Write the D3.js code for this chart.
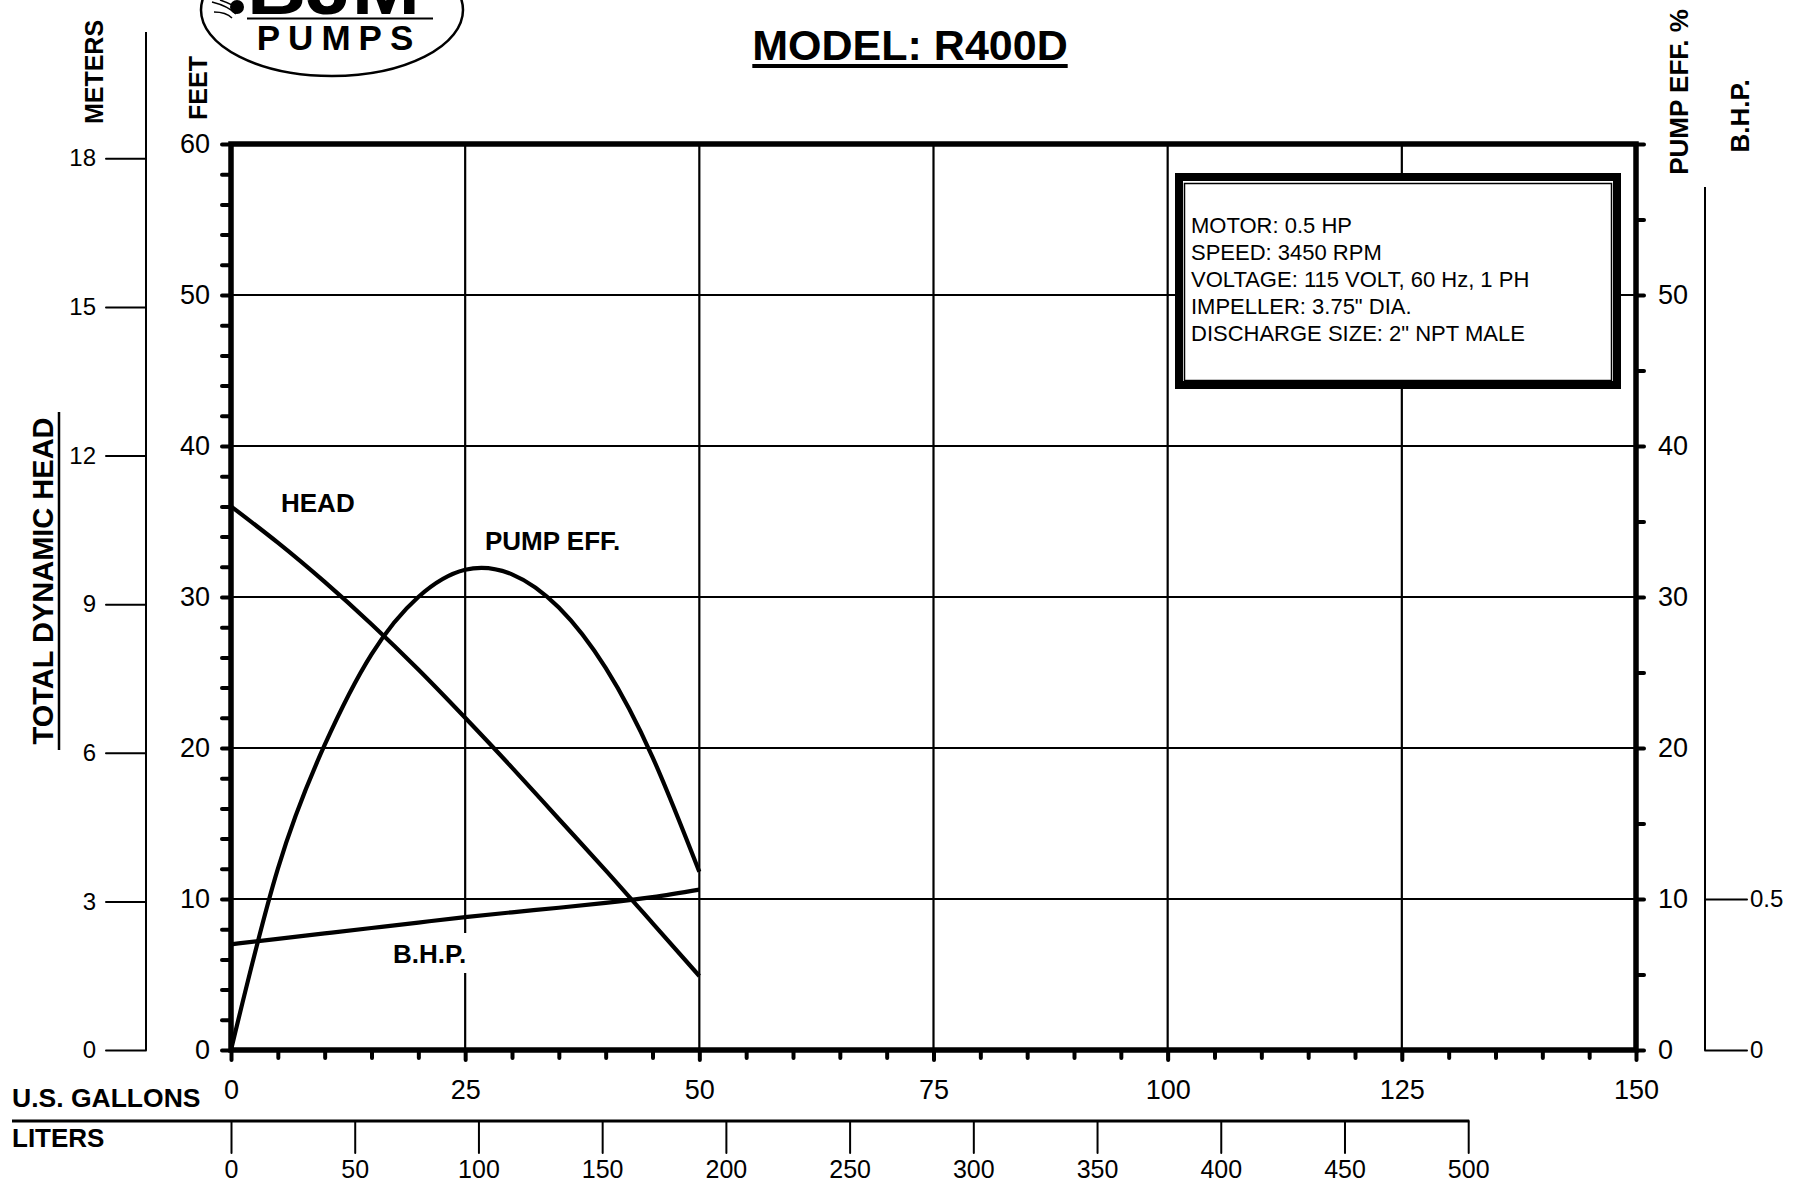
<!DOCTYPE html>
<html>
<head>
<meta charset="utf-8">
<script src="https://cdn.jsdelivr.net/npm/d3@7"></script>
<style>
body { margin: 0; background: #fff; }
svg text { font-family: "Liberation Sans", Arial, sans-serif; fill: #000; }
</style>
</head>
<body>
<div id="root"></div>
<script>
// performance data (US gallons per minute)
const gallons = [0, 5, 10, 15, 20, 25, 30, 35, 40, 45, 50]
const headFt = [36.0, 33.6, 31.0, 28.2, 25.2, 22.0, 18.7, 15.3, 11.9, 8.4, 4.9]
const pumpEff = [0, 12.0, 20.2, 26.2, 30.0, 31.8, 31.5, 29.3, 25.3, 19.4, 11.8]
const bhp = [0.350, 0.368, 0.386, 0.404, 0.422, 0.440, 0.456, 0.471, 0.487, 0.506, 0.531]

const gallonTicks = [0, 25, 50, 75, 100, 125, 150]
const literTicks = [0, 50, 100, 150, 200, 250, 300, 350, 400, 450, 500]
const feetTicks = [0, 10, 20, 30, 40, 50, 60]
const meterTicks = [0, 3, 6, 9, 12, 15, 18]
const effTicks = [0, 10, 20, 30, 40, 50]
const bhpTicks = [0, 0.5]

const specs = [
	'MOTOR: 0.5 HP',
	'SPEED: 3450 RPM',
	'VOLTAGE: 115 VOLT, 60 Hz, 1 PH',
	'IMPELLER: 3.75" DIA.',
	'DISCHARGE SIZE: 2" NPT MALE'
]

const C = {
	width: 1809,
	height: 1186,
	left: 231,
	right: 1636,
	top: 144,
	bottom: 1050,
}

const svg = d3.select('#root').append('svg')
	.attr('width', C.width)
	.attr('height', C.height)

const x = d3.scaleLinear().domain([0, 150]).range([C.left, C.right])
const xL = d3.scaleLinear().domain([0, 150 * 3.78541]).range([C.left, C.right])
const yFt = d3.scaleLinear().domain([0, 60]).range([C.bottom, C.top])
const yM = d3.scaleLinear().domain([0, 60 / 3.28084]).range([C.bottom, C.top])
const yEff = d3.scaleLinear().domain([0, 60]).range([C.bottom, C.top])
const yBhp = d3.scaleLinear().domain([0, 0.5]).range([C.bottom, yFt(10)])

// --- grid ---
svg.append('g').selectAll('line')
	.data(gallonTicks.slice(1, -1))
	.enter().append('line')
	.attr('x1', d => x(d)).attr('x2', d => x(d))
	.attr('y1', C.top).attr('y2', C.bottom + 10)
	.attr('stroke', '#000').attr('stroke-width', 2.2)

svg.append('g').selectAll('line')
	.data(feetTicks.slice(1, -1))
	.enter().append('line')
	.attr('x1', C.left).attr('x2', C.right)
	.attr('y1', d => yFt(d)).attr('y2', d => yFt(d))
	.attr('stroke', '#000').attr('stroke-width', 2.2)

// --- axes ---
function styleAxis(g, size, width) {
	g.select('.domain').remove()
	g.attr('font-size', size).attr('font-family', null)
	g.selectAll('.tick line').attr('stroke-width', width).attr('stroke-linecap', 'round')
}

const axFeet = svg.append('g')
	.attr('transform', `translate(${C.left},0)`)
	.call(d3.axisLeft(yFt).tickValues(d3.range(0, 61, 2)).tickSize(9).tickPadding(12)
		.tickFormat(d => feetTicks.includes(d) ? d : ''))
styleAxis(axFeet, 27, 4)

const axEff = svg.append('g')
	.attr('transform', `translate(${C.right},0)`)
	.call(d3.axisRight(yEff).tickValues(d3.range(0, 61, 5)).tickSize(8).tickPadding(14)
		.tickFormat(d => effTicks.includes(d) ? d : ''))
styleAxis(axEff, 27, 4)

const axGal = svg.append('g')
	.attr('transform', `translate(0,${C.bottom})`)
	.call(d3.axisBottom(x).tickValues(d3.range(0, 151, 5)).tickSize(8).tickPadding(22)
		.tickFormat(d => gallonTicks.includes(d) ? d : ''))
styleAxis(axGal, 27, 4)
axGal.selectAll('.tick line').filter(d => gallonTicks.includes(d)).attr('y2', 10)

// plot frame
svg.append('rect')
	.attr('x', C.left).attr('y', C.top)
	.attr('width', C.right - C.left).attr('height', C.bottom - C.top)
	.attr('fill', 'none').attr('stroke', '#000').attr('stroke-width', 5.5)

// liters scale under the gallons
const axLit = svg.append('g')
	.attr('transform', 'translate(0,1121)')
	.call(d3.axisBottom(xL).tickValues(literTicks).tickSize(32).tickPadding(7))
styleAxis(axLit, 25, 2)
svg.append('line')
	.attr('x1', 12).attr('x2', xL(500) + 1)
	.attr('y1', 1121).attr('y2', 1121)
	.attr('stroke', '#000').attr('stroke-width', 3)

// meters scale on the far left
const axM = svg.append('g')
	.attr('transform', 'translate(146,0)')
	.call(d3.axisLeft(yM).tickValues(meterTicks).tickSize(40).tickPadding(10))
styleAxis(axM, 24, 2)
svg.append('line')
	.attr('x1', 146).attr('x2', 146)
	.attr('y1', 32).attr('y2', C.bottom)
	.attr('stroke', '#000').attr('stroke-width', 2)

// B.H.P. scale on the far right
const axB = svg.append('g')
	.attr('transform', 'translate(1705,0)')
	.call(d3.axisRight(yBhp).tickValues(bhpTicks).tickSize(42).tickPadding(3)
		.tickFormat(d => d === 0 ? '0' : d))
styleAxis(axB, 24, 2)
svg.append('line')
	.attr('x1', 1705).attr('x2', 1705)
	.attr('y1', 187).attr('y2', C.bottom)
	.attr('stroke', '#000').attr('stroke-width', 2)

// --- curves ---
const series = [
	{ name: 'head', values: headFt, y: yFt },
	{ name: 'eff', values: pumpEff, y: yEff },
	{ name: 'bhp', values: bhp, y: yBhp },
]
series.forEach(s => {
	const line = d3.line()
		.x((d, i) => x(gallons[i]))
		.y(d => s.y(d))
		.curve(d3.curveNatural)
	svg.append('path')
		.datum(s.values)
		.attr('d', line)
		.attr('fill', 'none')
		.attr('stroke', '#000')
		.attr('stroke-width', 4.2)
})

// curve labels
function boldText(px, py, txt, size) {
	return svg.append('text')
		.attr('x', px).attr('y', py)
		.attr('font-size', size).attr('font-weight', 'bold')
		.text(txt)
}
svg.append('rect')
	.attr('x', 388).attr('y', 933).attr('width', 86).attr('height', 40)
	.attr('fill', '#fff')
boldText(281, 512, 'HEAD', 26)
boldText(485, 550, 'PUMP EFF.', 26)
boldText(393, 963, 'B.H.P.', 26)

// --- spec box ---
svg.append('rect')
	.attr('x', 1179).attr('y', 177).attr('width', 438).attr('height', 208)
	.attr('fill', '#fff').attr('stroke', '#000').attr('stroke-width', 8)
svg.append('rect')
	.attr('x', 1184.5).attr('y', 183.5).attr('width', 427).attr('height', 197)
	.attr('fill', 'none').attr('stroke', '#000').attr('stroke-width', 1.5)
svg.append('g').selectAll('text')
	.data(specs)
	.enter().append('text')
	.attr('x', 1191)
	.attr('y', (d, i) => 233 + i * 27)
	.attr('font-size', 22)
	.text(d => d)

// --- axis titles ---
function vText(px, py, txt, size) {
	return svg.append('text')
		.attr('transform', `translate(${px},${py}) rotate(-90)`)
		.attr('text-anchor', 'middle')
		.attr('font-size', size).attr('font-weight', 'bold')
		.text(txt)
}
vText(103, 72, 'METERS', 25)
vText(207, 88, 'FEET', 25)
vText(53, 581, 'TOTAL DYNAMIC HEAD', 29)
svg.append('line')
	.attr('x1', 59).attr('x2', 59).attr('y1', 412).attr('y2', 750)
	.attr('stroke', '#000').attr('stroke-width', 2.5)
vText(1688, 92, 'PUMP EFF. %', 26)
vText(1749, 116, 'B.H.P.', 26)

boldText(12, 1107, 'U.S. GALLONS', 26.5)
boldText(12, 1147, 'LITERS', 26)

// title
const title = svg.append('text')
	.attr('x', 910).attr('y', 60)
	.attr('text-anchor', 'middle')
	.attr('font-size', 43).attr('font-weight', 'bold')
	.text('MODEL: R400D')
const tw = title.node().getComputedTextLength()
svg.append('line')
	.attr('x1', 910 - tw / 2).attr('x2', 910 + tw / 2)
	.attr('y1', 66).attr('y2', 66)
	.attr('stroke', '#000').attr('stroke-width', 4)

// --- logo (cut off by the top edge) ---
const logo = svg.append('g')
logo.append('ellipse')
	.attr('cx', 332).attr('cy', 10).attr('rx', 131).attr('ry', 66)
	.attr('fill', '#fff').attr('stroke', '#000').attr('stroke-width', 2.5)
logo.append('text')
	.attr('x', 247).attr('y', 14)
	.attr('font-size', 72).attr('font-weight', 'bold')
	.attr('textLength', 173).attr('lengthAdjust', 'spacingAndGlyphs')
	.text('BJM')
logo.append('line')
	.attr('x1', 247).attr('x2', 433).attr('y1', 18.5).attr('y2', 18.5)
	.attr('stroke', '#000').attr('stroke-width', 2)
logo.append('circle')
	.attr('cx', 237).attr('cy', 7).attr('r', 7)
	.attr('fill', '#000')
logo.append('path')
	.attr('d', 'M212,2 Q228,6 236,14 M214,12 Q226,12 232,18 M220,0 Q232,4 240,10')
	.attr('fill', 'none').attr('stroke', '#000').attr('stroke-width', 1.5)
logo.append('text')
	.attr('x', 339).attr('y', 50)
	.attr('text-anchor', 'middle')
	.attr('font-size', 35).attr('font-weight', 'bold')
	.attr('letter-spacing', 8)
	.text('PUMPS')
</script>
</body>
</html>
